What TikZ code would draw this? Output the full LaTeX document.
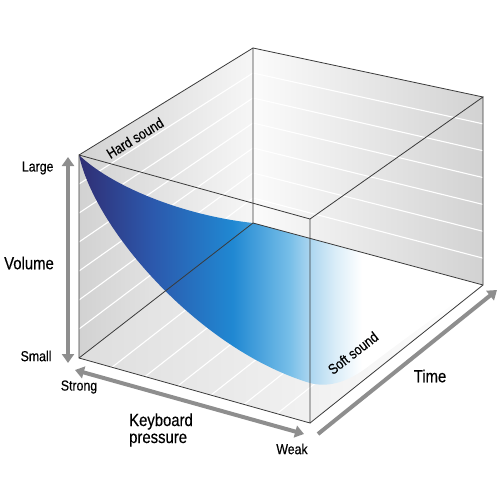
\documentclass[tikz,border=0pt]{standalone}
\usepackage{fontspec}
\setmainfont{Liberation Sans}[FakeStretch=0.85,FakeBold=0.35]
\usetikzlibrary{arrows.meta,calc}
\definecolor{edgegray}{HTML}{3A3A3A}
\definecolor{axisgray}{HTML}{8E8E8E}
\definecolor{wallgray}{HTML}{D2D2D2}
\definecolor{navy}{RGB}{48,46,116}
\definecolor{deepblue}{RGB}{44,88,172}
\definecolor{skyblue}{RGB}{32,136,210}
\definecolor{paleblue}{RGB}{118,190,232}
\definecolor{mistblue}{RGB}{172,214,240}
\definecolor{iceblue}{RGB}{218,237,248}
\pgfdeclarehorizontalshading{soundsurface}{100bp}{color(0bp)=(navy); color(25bp)=(navy); color(34bp)=(deepblue); color(44bp)=(skyblue); color(51bp)=(paleblue); color(53.6bp)=(mistblue); color(56.7bp)=(iceblue); color(60bp)=(white); color(100bp)=(white)}
\begin{document}
\begin{tikzpicture}[
  x=1pt, y=-1pt,
  edge/.style={edgegray, line width=0.8pt},
  stripe/.style={white, line width=1.1pt},
  axisarrow/.style={axisgray, line width=4pt, >={Triangle[length=9pt,width=12pt]}},
  biglabel/.style={font=\fontsize{17.5}{17}\selectfont},
  smalllabel/.style={font=\fontsize{14.5}{14}\selectfont}]
  \useasboundingbox (0,0) rectangle (500,500);
  % cube corners
  \coordinate (ftl) at (79,155);
  \coordinate (fbl) at (79,358);
  \coordinate (ftr) at (310,219);
  \coordinate (fbr) at (310,423);
  \coordinate (btl) at (253,48);
  \coordinate (bbl) at (253,223);
  \coordinate (btr) at (483,97);
  \coordinate (bbr) at (483,285);
  % walls
  \shade[left color=wallgray, right color=gray!7] (ftl) -- (btl) -- (bbl) -- (fbl) -- cycle;
  \shade[left color=gray!3, right color=wallgray] (btl) -- (btr) -- (bbr) -- (bbl) -- cycle;
  \shade[left color=gray!26, right color=white] (fbl) -- (fbr) -- (bbr) -- (bbl) -- cycle;
  \foreach \k in {1,...,6} {
    \draw[stripe] ($(ftl)!\k/7!(fbl)$) -- ($(btl)!\k/7!(bbl)$);
    \draw[stripe] ($(btl)!\k/7!(bbl)$) -- ($(btr)!\k/7!(bbr)$);
    \draw[stripe] ($(fbl)!\k/7!(fbr)$) -- ($(bbl)!\k/7!(bbr)$);
  }
  % sound surface
  \shade[shading=soundsurface] (ftl) .. controls (95,230) and (200,350) .. (310,383)
    .. controls (325,387) and (345,385) .. (370,365)
    .. controls (410,335) and (450,305) .. (bbr) -- (bbl)
    .. controls (180,215) and (110,185) .. (ftl) -- cycle;
  % cube edges
  \draw[edge] (btl) -- (bbl) -- (bbr) (bbl) -- (fbl);
  \draw[edge] (ftl) -- (ftr) -- (fbr) -- (fbl) -- cycle;
  \draw[edge] (ftl) -- (btl) -- (btr) -- (ftr) (btr) -- (bbr) -- (fbr);
  % axes
  \coordinate (vtop) at (68,157);
  \coordinate (vbot) at (68,363);
  \coordinate (pstrong) at (75,370);
  \coordinate (pweak) at (304,434);
  \coordinate (tstart) at (318,434);
  \coordinate (tend) at (497,290);
  \draw[axisarrow, <->] (vbot) -- (vtop);
  \draw[axisarrow, <->] (pstrong) -- (pweak);
  \draw[axisarrow, ->] (tstart) -- (tend);
  % labels
  \node[smalllabel, anchor=east] (large) at (57,168) {Large};
  \node[smalllabel, anchor=east] (small) at (55,356) {Small};
  \node[biglabel] (volume) at (29,263) {Volume};
  \node[smalllabel] (strong) at (79,387) {Strong};
  \node[biglabel, align=left] (pressure) at (161,430) {Keyboard\\pressure};
  \node[smalllabel] (weak) at (292,449) {Weak};
  \node[biglabel] (time) at (430,376) {Time};
  \node[smalllabel, rotate=31.6] (hard) at (135,138) {Hard sound};
  \node[smalllabel, rotate=38] (soft) at (353,353) {Soft sound};
\end{tikzpicture}
\end{document}
